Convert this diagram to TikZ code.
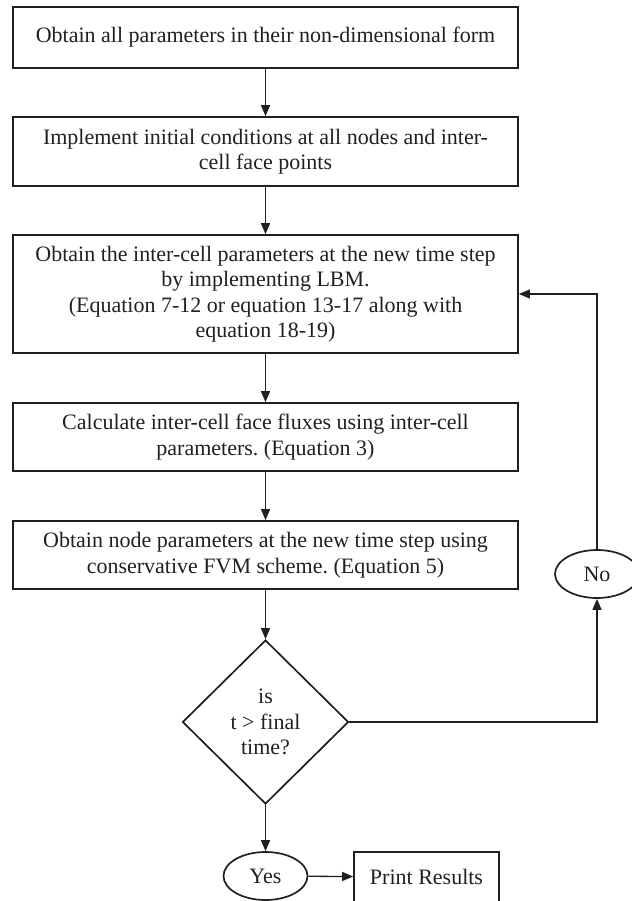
\documentclass[tikz,border=0pt]{standalone}
\usepackage{fontspec}
\setmainfont{Liberation Serif}
\usetikzlibrary{shapes.geometric,arrows.meta}
\definecolor{inkgray}{RGB}{35,31,32}
\frenchspacing
\begin{document}
\begin{tikzpicture}[x=1pt, y=-1pt]
\tikzstyle{basic}=[draw=inkgray, text=inkgray, line width=1.7pt, font=\fontsize{22}{25.5}\selectfont, align=center, inner sep=0pt]
\tikzstyle{process}=[basic, rectangle, minimum width=505pt]
\tikzstyle{decision}=[basic, diamond, aspect=1, minimum width=166pt, minimum height=164pt]
\tikzstyle{terminal}=[basic, ellipse, minimum width=84pt, minimum height=48pt]
\tikzstyle{edgestyle}=[draw=inkgray, line width=1.3pt, -{Triangle[length=11pt,width=9pt]}]
\useasboundingbox (0,0) rectangle (631,901);

\node[process, minimum height=61pt] (op0) at (265.5,37.5) {Obtain all parameters in their non-dimensional form};
\node[process, minimum height=69pt] (op1) at (265.5,151.5) {Implement initial conditions at all nodes and inter-\\cell face points};
\draw (op0) edge[edgestyle] (op1);

\node[process, minimum height=118pt] (op2) at (265.5,294) {Obtain the inter-cell parameters at the new time step\\by implementing LBM.\\(Equation 7-12 or equation 13-17 along with\\equation 18-19)};
\draw (op1) edge[edgestyle] (op2);

\node[process, minimum height=68pt] (op3) at (265.5,437) {Calculate inter-cell face fluxes using inter-cell\\parameters. (Equation 3)};
\draw (op2) edge[edgestyle] (op3);

\node[process, minimum height=68pt] (op4) at (265.5,555) {Obtain node parameters at the new time step using\\conservative FVM scheme. (Equation 5)};
\draw (op3) edge[edgestyle] (op4);

%\node[decision] (q0) at (263,722) {};
\node[decision] (q0) at (265.5,722) {is\\t > final\\time?};
\draw (op4) edge[edgestyle] (q0);

\node[terminal] (no) at (597,574) {No};
\draw[edgestyle] (q0.east) -| (no.south);
\draw[edgestyle] (no.north) |- (op2.east);

\node[terminal] (yes) at (265.5,876) {Yes};
\draw (q0) edge[edgestyle] (yes);
\node[basic, rectangle, minimum width=145pt, minimum height=50pt] (res) at (426.5,877) {Print Results};
\draw (yes) edge[edgestyle] (res);
\end{tikzpicture}
\end{document}
